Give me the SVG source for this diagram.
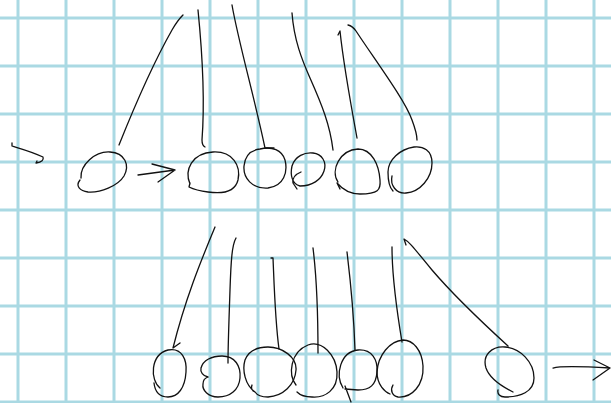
<svg xmlns="http://www.w3.org/2000/svg" width="611" height="403" viewBox="0 0 611 403">
<style>
.g{stroke:#aad9e3;stroke-width:3;fill:none}
.ink{stroke:#111;stroke-width:1.3;fill:none;stroke-linecap:round;stroke-linejoin:round}
</style>
<rect width="611" height="403" fill="#fff"/>
<g id="grid" class="g">
<path d="M18 0V403M66 0V403M114 0V403M162 0V403M210 0V403M258 0V403M306 0V403M354 0V403M402 0V403M450 0V403M498 0V403M546 0V403M594 0V403"/>
<path d="M0 18H611M0 66H611M0 114H611M0 162H611M0 210H611M0 258H611M0 306H611M0 354H611M0 402H611"/>
</g>
<g id="connectors" class="ink">
<path d="M12 143 L12 146 C18 148 30 151 43 157 C44 160 42 162 36 163 L37 161"/>
<path d="M119 145 C135 105 155 60 172 30 C176 23 180 18 183 15 L181 17"/>
<path d="M198 10 C202 50 205 100 202 140 C202 144 203 146 205 147"/>
<path d="M232 5 C238 40 255 100 265 148 L274 148"/>
<path d="M292 13 C294 40 302 60 310 78 C322 105 330 125 333 150"/>
<path d="M357 138 C350 100 343 60 340 31 L338 35"/>
<path d="M348 25 C352 26 354 28 356 31 C375 60 405 100 412 120 C415 128 417 134 417 140"/>
<path d="M138 175 L175 170 M152 164 L175 170 L158 182"/>
<path d="M215 227 C200 263 185 300 173 348 L180 343"/>
<path d="M236 238 C232 245 231 260 230 290 C229 320 228 345 228 363"/>
<path d="M271 258 L273 258 C274 280 275 320 279 349"/>
<path d="M313 248 C317 280 318 320 318 353"/>
<path d="M347 252 C351 285 354 320 355 350"/>
<path d="M392 247 C392 270 395 300 402 342"/>
<path d="M406 245 L404 239 C408 241 410 243 432 270 C455 297 485 325 508 346"/>
<path d="M553 368 C560 366 575 366 610 368 M594 360 L610 368 L593 380"/>
</g>
<g id="top-ball-1" class="ink"><path d="M81 178 C80 165 95 151 110 152 C125 153 130 165 124 176 C118 186 100 193 88 192 C80 191 75 186 80 180"/></g>
<g id="top-ball-2" class="ink"><path d="M190 184 C184 170 192 153 213 152 C233 151 241 166 238 180 C235 192 222 194 208 192 C200 191 193 189 189 187 L190 183"/></g>
<g id="top-ball-3" class="ink"><path d="M260 149 C272 146 282 150 285 160 C288 172 284 186 268 188 C252 189 243 178 244 166 C245 155 252 150 260 149 Z"/></g>
<g id="top-ball-4" class="ink"><path d="M300 186 C292 184 290 175 292 166 C295 156 305 152 313 153 C322 154 327 162 324 171 C321 180 312 186 300 186 Z M301 172 C296 174 292 177 293 183 L297 189"/></g>
<g id="top-ball-5" class="ink"><path d="M338 182 C330 170 340 150 358 149 C372 149 379 165 380 180 C381 190 378 194 360 194 C350 194 343 190 337 183 L340 189"/></g>
<g id="top-ball-6" class="ink"><path d="M392 176 C390 185 396 194 406 193 C420 192 432 178 432 163 C432 150 423 146 414 147 C400 149 388 160 388 172 C388 182 390 188 393 191"/></g>
<g id="bottom-ball-1" class="ink"><path d="M160 388 C150 380 150 355 168 350 C182 347 187 360 186 372 C185 388 178 397 168 397 C160 397 155 392 154 383"/></g>
<g id="bottom-ball-2" class="ink"><path d="M208 377 C203 376 200 372 201 368 C203 360 212 356 222 356 C235 356 241 366 240 378 C239 390 230 397 218 397 C208 397 202 390 203 384 C203 380 205 378 208 377"/></g>
<g id="bottom-ball-3" class="ink"><path d="M252 385 C251 388 252 391 255 392 C245 385 242 370 245 360 C249 350 258 347 268 347 C282 347 297 357 296 370 C295 385 283 396 268 397 C262 397 257 395 255 392"/></g>
<g id="bottom-ball-4" class="ink"><path d="M296 385 C288 375 290 352 308 345 C322 340 336 355 337 372 C338 390 325 398 312 397 C305 397 300 395 297 392"/></g>
<g id="bottom-ball-5" class="ink"><path d="M343 388 C335 375 340 352 358 350 C372 349 378 360 377 372 C376 385 370 390 358 390 L345 389 M345 386 L351 402"/></g>
<g id="bottom-ball-6" class="ink"><path d="M393 385 C390 390 392 396 398 397 C412 398 424 385 423 366 C422 350 413 340 403 340 C390 341 378 355 377 372 C377 385 385 392 390 394"/></g>
<g id="bottom-ball-7" class="ink"><path d="M513 392 C505 388 490 380 486 368 C482 355 492 346 505 347 C520 348 534 362 534 378 C534 392 520 397 505 397 C500 397 497 394 498 390"/></g>
</svg>
